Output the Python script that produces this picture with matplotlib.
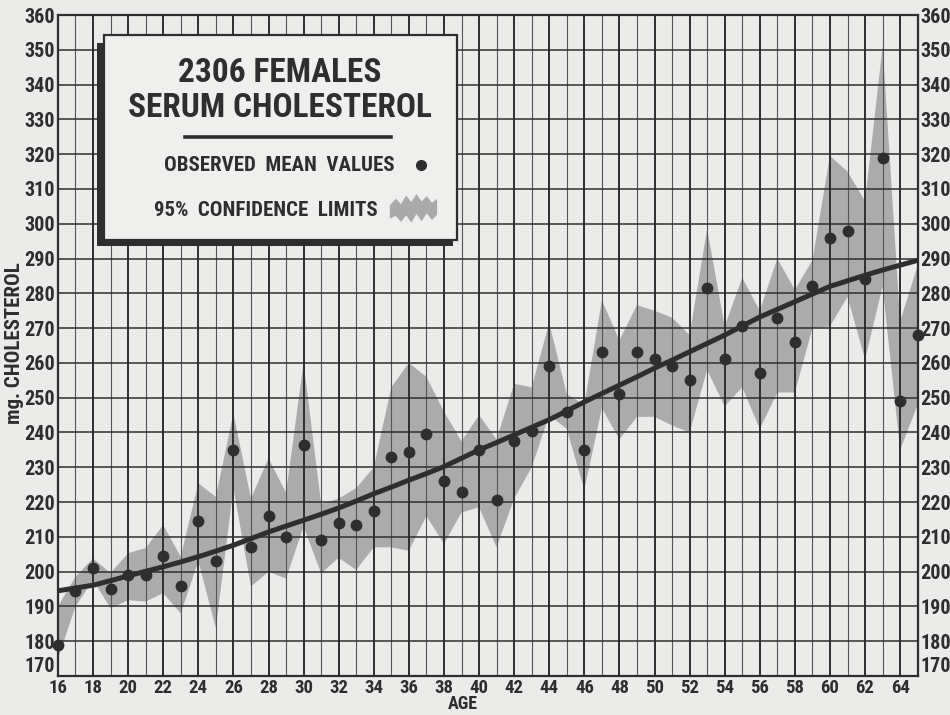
import matplotlib
matplotlib.use("Agg")
import matplotlib.pyplot as plt
from matplotlib import font_manager as fm
from matplotlib.patches import Rectangle, Polygon

ages = list(range(16, 66))
means = [179, 194.5, 201, 195, 199, 199, 204.5, 196, 214.5, 203,
         235, 207, 216, 210, 236.5, 209, 214, 213.5, 217.5, 233,
         234.5, 239.5, 226, 223, 235, 220.5, 237.5, 240.5, 259, 246,
         235, 263, 251, 263, 261, 259, 255, 281.5, 261, 270.5,
         257, 273, 266, 282, 296, 298, 284, 319, 249, 268]
upper = [190, 198.5, 203.8, 199.6, 205.3, 206.8, 213.4, 204.3, 225.4, 221.5,
         245.5, 221, 232.6, 222.7, 260, 219.5, 221, 224, 230, 253,
         260, 256, 246, 237.5, 245, 238, 254, 253, 271.5, 251,
         248, 278, 266.5, 276.6, 275, 273, 268, 298.5, 270.5, 284.5,
         275, 290, 281, 289.5, 319.5, 315, 306.5, 351, 272, 288]
lower = [175, 190, 197.6, 189.5, 191.8, 191.4, 193.8, 188, 203, 183.8,
         224, 195.7, 200, 198, 213, 199.5, 204, 200.5, 207, 207,
         206, 216, 208, 217, 218.5, 207, 221, 230, 245, 241,
         223.5, 247, 238, 244.5, 244.5, 242, 240, 258, 247.5, 253,
         241, 251.5, 251.5, 270, 270.5, 279, 261, 282, 235, 248]
curve = [194.5, 195.3, 196.1, 197.4, 198.8, 200.1, 201.4, 202.8, 204.3, 205.9,
         207.6, 209.5, 211.4, 213.1, 214.8, 216.5, 218.3, 220.3, 222.4, 224.3,
         226.3, 228.2, 230.2, 232.6, 235.0, 237.1, 239.3, 241.5, 243.7, 246.2,
         248.8, 251.2, 253.6, 256.0, 258.5, 260.8, 263.2, 265.6, 268.0, 270.6,
         273.2, 275.4, 277.6, 279.8, 282.0, 283.6, 285.2, 286.7, 288.1, 289.5]
x_ticks = list(range(16, 65, 2))
y_ticks = list(range(170, 361, 10))

# pick a condensed bold face if one is installed
fam, stretch, narrow = "DejaVu Sans", "normal", False
for f in fm.fontManager.ttflist:
    low = (f.fname + " " + f.name).lower()
    if ("condensed" in low or "narrow" in low) and "bold" in low:
        fam, narrow = f.name, True
        stretch = "condensed" if "condensed" in low else "normal"
        if "liberation" in low or "roboto" in low:
            break
if not narrow:
    fam = "Roboto"

BG = "#ebebea"
INK = "#2e2e2e"
FONT = dict(family=fam, fontweight="bold", color=INK)
if narrow:
    FONT["fontstretch"] = stretch
s = 1.0 if narrow else 0.8  # size factor for wide fallback faces

fig = plt.figure(figsize=(9.5, 7.15), dpi=100, facecolor=BG)
ax = fig.add_axes([0.061, 0.0545, 0.905, 0.9245])
ax.set_facecolor(BG)
ax.set_xlim(16, 65)
ax.set_ylim(170, 360)

ax.fill_between(ages, lower, upper, facecolor="#ababab", edgecolor="none", zorder=1)

for a in range(16, 66):
    lw, c = (1.4, INK) if a % 2 == 0 else (0.8, "#555555")
    ax.axvline(a, color=c, lw=lw, zorder=2)
for v in y_ticks:
    ax.axhline(v, color=INK, lw=1.1, zorder=2)

ax.plot(ages, curve, color=INK, lw=3.6, zorder=4, solid_capstyle="round")
ax.plot(ages, means, "o", color=INK, ms=7.5, zorder=5, clip_on=False)

ax.set_xticks(x_ticks)
ax.set_yticks(y_ticks)
ax.tick_params(axis="both", length=0)
ax.tick_params(axis="y", labelright=True, right=False, pad=2)
ax.tick_params(axis="x", pad=2)


def style(lab, size):
    lab.set_fontfamily(fam)
    if narrow:
        lab.set_fontstretch(stretch)
    lab.set_fontweight("bold")
    lab.set_fontsize(size * s)
    lab.set_color(INK)


for tk in ax.xaxis.get_major_ticks():
    style(tk.label1, 13.5)
for tk in ax.yaxis.get_major_ticks():
    style(tk.label1, 14.5)
    style(tk.label2, 14.5)
first = ax.yaxis.get_major_ticks()[0]
first.label1.set_va("bottom")
first.label2.set_va("bottom")
for sp in ax.spines.values():
    sp.set_color(INK)
    sp.set_linewidth(1.6)

fig.text(0.487, 0.003, "AGE", ha="center", va="bottom", fontsize=13 * s, **FONT)
fig.text(0.015, 0.52, "mg. CHOLESTEROL", ha="center", va="center", rotation=90,
         fontsize=15 * s, **FONT)

# legend box (axes fraction coordinates)
t = ax.transAxes
ax.add_patch(Rectangle((0.046, 0.650), 0.414, 0.308, transform=t, facecolor=INK,
                       edgecolor="none", zorder=6))
ax.add_patch(Rectangle((0.053, 0.659), 0.411, 0.311, transform=t, facecolor="#efefee",
                       edgecolor=INK, lw=1.6, zorder=7))
ax.text(0.258, 0.912, "2306 FEMALES", transform=t, ha="center", va="center",
        fontsize=24 * s, zorder=8, **FONT)
ax.text(0.258, 0.860, "SERUM CHOLESTEROL", transform=t, ha="center", va="center",
        fontsize=24 * s, zorder=8, **FONT)
ax.plot([0.148, 0.387], [0.815, 0.815], transform=t, color=INK, lw=2.6, zorder=8)
ax.text(0.392, 0.773, "OBSERVED  MEAN  VALUES", transform=t, ha="right", va="center",
        fontsize=15 * s, zorder=8, **FONT)
ax.plot([0.422], [0.773], "o", transform=t, color=INK, ms=7, zorder=8)
ax.text(0.372, 0.705, "95%  CONFIDENCE  LIMITS", transform=t, ha="right", va="center",
        fontsize=15 * s, zorder=8, **FONT)
zig_x = [0.386, 0.393, 0.399, 0.405, 0.411, 0.417, 0.423, 0.429, 0.435, 0.441,
         0.441, 0.435, 0.429, 0.423, 0.417, 0.411, 0.405, 0.399, 0.393, 0.386]
zig_y = [0.712, 0.722, 0.714, 0.727, 0.717, 0.729, 0.718, 0.726, 0.716, 0.722,
         0.698, 0.690, 0.700, 0.688, 0.699, 0.686, 0.697, 0.687, 0.696, 0.692]
ax.add_patch(Polygon(list(zip(zig_x, zig_y)), closed=True, transform=t,
                     facecolor="#a9a9a9", edgecolor="none", zorder=8))

fig.savefig("out.png", dpi=100, facecolor=BG)
